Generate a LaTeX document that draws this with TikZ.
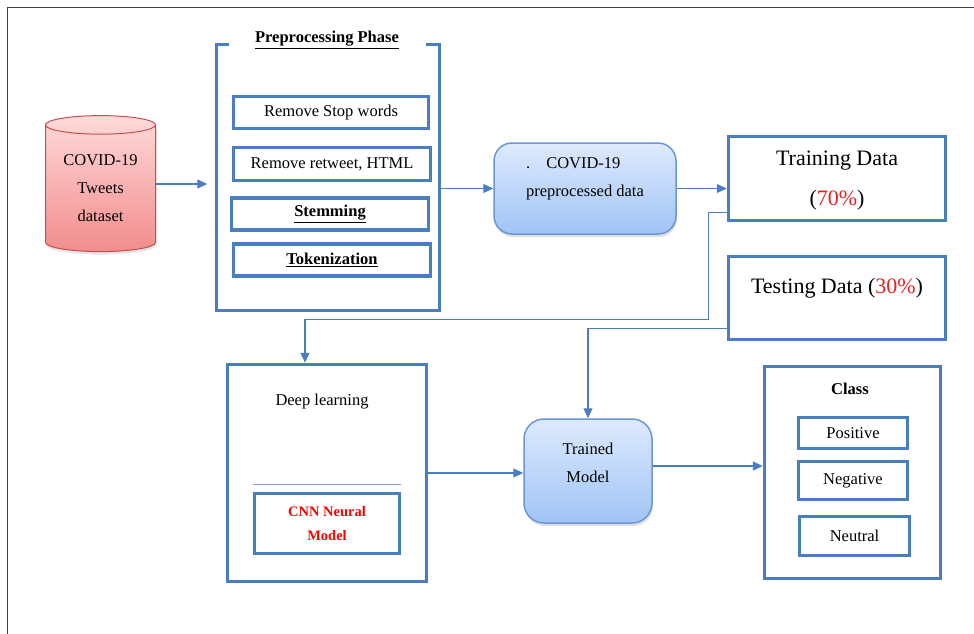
\documentclass[tikz,border=0pt]{standalone}
\usepackage{fontspec}
\setmainfont{Liberation Serif}
\usetikzlibrary{arrows.meta,shapes.geometric,shadows}
\definecolor{boxblue}{RGB}{74,126,192}
\definecolor{pdtop}{RGB}{222,234,253}
\definecolor{pdbot}{RGB}{160,196,246}
\definecolor{pdline}{RGB}{108,150,214}
\definecolor{cyltop}{RGB}{255,218,218}
\definecolor{cylbot}{RGB}{242,140,140}
\definecolor{cylline}{RGB}{196,80,77}
\definecolor{pctred}{RGB}{235,30,35}

\begin{document}
\begin{tikzpicture}[x=1pt, y=-1pt, >={Triangle[length=10pt,width=9pt]},
  every node/.style={font=\fontsize{16.5}{28}\selectfont, inner sep=0pt},
  box/.style={draw=boxblue, line width=3.5pt},
  roundbox/.style={draw=pdline, line width=1.5pt, rounded corners=18pt,
    top color=pdtop, bottom color=pdbot,
    drop shadow={opacity=0.25, shadow xshift=1pt, shadow yshift=-3pt}},
  link/.style={->, boxblue, line width=1.2pt}]
  \useasboundingbox (0,0) rectangle (974,634);
  \draw[line width=1pt, black!75] (7,634) -- (7,8) -- (974,8);

  % dataset
  \node[cylinder, shape border rotate=90, aspect=0.25, draw=cylline,
    line width=1pt, top color=cyltop, bottom color=cylbot,
    minimum width=110, minimum height=136, align=center,
    drop shadow={opacity=0.2, shadow xshift=1pt, shadow yshift=-3pt}]
    (cyl) at (100.5,188.5) {COVID-19\\Tweets\\dataset};

  % preprocessing phase
  \node[minimum width=223, minimum height=266] (prep) at (328,177.5) {};
  \draw[boxblue, line width=3pt] ([xshift=13pt]prep.north west)
    -- (prep.north west) -- (prep.south west) -- (prep.south east)
    -- (prep.north east) -- ([xshift=-14pt]prep.north east);
  \node[font=\bfseries\fontsize{16.5}{20}\selectfont] (ptitle) at (327,40)
    {\underline{Preprocessing Phase}};
  \node[box, minimum width=195, minimum height=32] (stop) at (331,112.5)
    {Remove Stop words};
  \node[box, minimum width=197, minimum height=33] (retw) at (332,164)
    {Remove retweet, HTML};
  \node[box, minimum width=197, minimum height=32,
    font=\bfseries\fontsize{16.5}{20}\selectfont] (stem) at (330,214)
    {\underline{Stemming}};
  \node[box, minimum width=197, minimum height=32,
    font=\bfseries\fontsize{16.5}{20}\selectfont] (tok) at (332,260)
    {\underline{Tokenization}};

  % data
  \node[roundbox, minimum width=182, minimum height=91, align=left,
    text depth=22pt] (pdata) at (585,188.5)
    {.\hspace{16pt}COVID-19\\preprocessed data};
  \node[box, minimum width=217, minimum height=84, align=center,
    font=\fontsize{22}{40}\selectfont, text depth=1pt] (train) at (837,178.5)
    {Training Data\\(\textcolor{pctred}{70\%})};
  \node[box, minimum width=217, minimum height=83,
    font=\fontsize{22}{26}\selectfont, text depth=25pt] (test) at (837,298)
    {Testing Data (\textcolor{pctred}{30\%})};

  % model
  \node[box, minimum width=199, minimum height=217] (deep) at (327,473) {};
  \node (dtitle) at (322,402) {Deep learning};
  \node[box, minimum width=145, minimum height=60, align=center, text=red,
    font=\bfseries\fontsize{14.5}{24}\selectfont] (cnn) at (327,523.5)
    {CNN Neural\\Model};
  \draw[boxblue!70, line width=1pt] ([yshift=7pt]cnn.north west)
    -- ([yshift=7pt]cnn.north east);
  \node[roundbox, rounded corners=20pt, minimum width=128, minimum height=104,
    align=center, text depth=16pt] (trained) at (588,471) {Trained\\Model};

  % classes
  \node[box, minimum width=176, minimum height=212] (cls) at (852.5,472.5) {};
  \node[font=\bfseries\fontsize{16.5}{20}\selectfont] (ctitle) at (850,389)
    {Class};
  \node[box, line width=3pt, minimum width=109, minimum height=31] (pos)
    at (853,433) {Positive};
  \node[box, line width=3pt, minimum width=109, minimum height=38] (neg)
    at (853,480.5) {Negative};
  \node[box, line width=3pt, minimum width=110, minimum height=39] (neu)
    at (854.5,536) {Neutral};

  % connectors
  \draw[link] ([yshift=4.5pt]cyl.east)
    -- ([xshift=-9pt,yshift=4.5pt]cyl.east -| prep.west);
  \draw[link] (prep.east |- pdata.west) -- (pdata.west);
  \draw[link] (pdata.east) -- (pdata.east -| train.west);
  \draw[link] ([yshift=10pt]train.south west) -- ++(-18,0) -- ++(0,107)
    -| ([xshift=-22pt]deep.north);
  \draw[link] ([yshift=13pt]test.south west) -| (trained.north);
  \draw[link] (deep.east) -- (deep.east -| trained.west);
  \draw[link] ([yshift=5pt]trained.east) -- ([yshift=5pt]trained.east -| cls.west);
\end{tikzpicture}
\end{document}
